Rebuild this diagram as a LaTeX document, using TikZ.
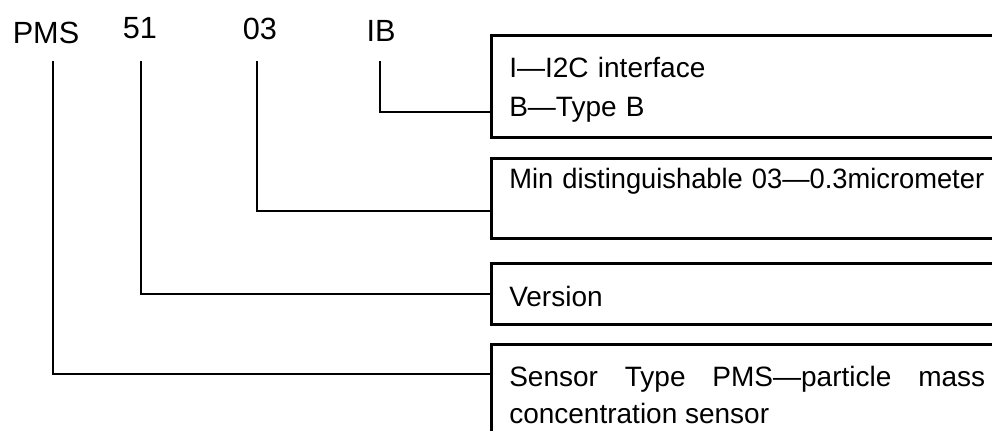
\documentclass[tikz,border=0pt]{standalone}
\usepackage{fontspec}
\setmainfont{Liberation Sans}
\begin{document}
\begin{tikzpicture}[x=0.75pt,y=0.75pt,
  code/.style={inner sep=0pt,anchor=base,font=\fontsize{23}{27}\selectfont},
  box/.style={draw,line width=1.9pt,inner sep=0pt,anchor=north west},
  note/.style={inner sep=0pt,anchor=base west,text width=380pt,align=left,font=\fontsize{21}{29.3}\selectfont},
  link/.style={line width=1.2pt}]
  \def\px{0.75pt}
  \clip (0,0) rectangle (992,430);
  % fields of the part number
  \node[code] (pms) at (46,387) {PMS};
  \node[code] (ver) at (140,392) {51};
  \node[code] (res) at (260,390.5) {03};
  \node[code] (ifc) at (381,389) {IB};
  % boxes, cut by the right and bottom edge
  \node[box,minimum width=510*\px,minimum height=102*\px] (bifc) at (490,396) {};
  \node[box,minimum width=510*\px,minimum height=80*\px] (bres) at (490,273) {};
  \node[box,minimum width=510*\px,minimum height=61*\px] (bver) at (490,168) {};
  \node[box,minimum width=510*\px,minimum height=117*\px] (bpms) at (490,87) {};
  \node[note] (tifc) at (509,353) {I—I2C interface\\B—Type B};
  \node[note] (tres) at (509,242) {\scalebox{0.975}[1]{Min distinguishable 03—0.3micrometer}};
  \node[note] (tver) at (509,124) {Version};
  \node[note,text width=357pt,align=justify,font=\fontsize{21}{27.8}\selectfont] (tpms) at (509,44)
    {Sensor Type PMS—particle mass\linebreak concentration sensor};
  % connectors
  \draw[link] ([xshift=-1*\px,yshift=-20*\px]ifc.base) |- ([yshift=-26*\px]bifc.west);
  \draw[link] ([xshift=-3*\px,yshift=-21.5*\px]res.base) |- ([yshift=-13*\px]bres.west);
  \draw[link] ([xshift=1*\px,yshift=-23*\px]ver.base) |- (bver.west);
  \draw[link] ([xshift=7*\px,yshift=-18*\px]pms.base) |- ([yshift=28.5*\px]bpms.west);
\end{tikzpicture}
\end{document}
